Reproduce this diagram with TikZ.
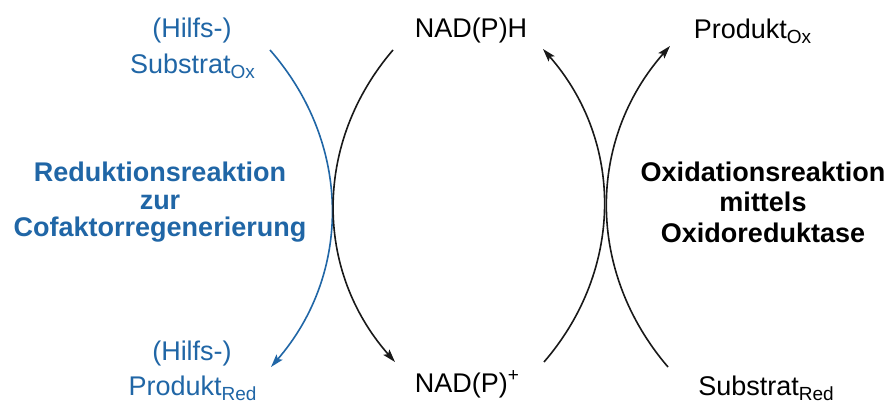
\documentclass[tikz,border=0pt]{standalone}
\usepackage{fontspec}
\setmainfont{Liberation Sans}
\usetikzlibrary{arrows.meta}
\definecolor{cofblue}{RGB}{32,102,166}
\newcommand\chsub[1]{\raisebox{-5pt}{\fontsize{19}{19}\selectfont #1}}
\newcommand\chsup[1]{\raisebox{11pt}{\fontsize{19}{19}\selectfont #1}}
\begin{document}
\begin{tikzpicture}[x=1pt,y=1pt,
  lbl/.style={anchor=base,inner sep=0pt,font=\fontsize{27}{28}\selectfont},
  bluelbl/.style={lbl,text=cofblue},
  boldlbl/.style={lbl,font=\fontsize{27}{28}\selectfont\bfseries},
  arc/.style={line width=1.6pt,-{Stealth[length=13pt,width=8pt,inset=2.5pt]}},
  blackarc/.style={arc,draw=black!90},
  bluearc/.style={arc,draw=cofblue}]
\path[use as bounding box,fill=white] (0,0) rectangle (886,-403);

% labels
\node[bluelbl] (hilfsTop) at (192,-38) {(Hilfs-)};
\node[bluelbl] (substratOx) at (192.5,-74) {Substrat\chsub{Ox}};
\node[bluelbl] (hilfsBot) at (192,-360) {(Hilfs-)};
\node[bluelbl] (produktRed) at (192.5,-395) {Produkt\chsub{Red}};
\node[lbl] (nadph) at (471,-38) {NAD(P)H};
\node[lbl] (nadp) at (467,-392) {NAD(P)\chsup{+}};
\node[lbl] (produktOx) at (752.5,-39) {Produkt\chsub{Ox}};
\node[lbl] (substratRed) at (766,-395) {Substrat\chsub{Red}};

\node[boldlbl,text=cofblue] (red1) at (160,-182) {Reduktionsreaktion};
\node[boldlbl,text=cofblue] (red2) at (160,-209.5) {zur};
\node[boldlbl,text=cofblue] (red3) at (160,-237) {Cofaktorregenerierung};
\node[boldlbl] (ox1) at (763,-182) {Oxidationsreaktion};
\node[boldlbl] (ox2) at (763,-212) {mittels};
\node[boldlbl] (ox3) at (763,-243) {Oxidoreduktase};

% arc end points
\coordinate (bS) at (270,-50);
\coordinate (bE) at (271,-367);
\coordinate (kS) at (393,-50);
\coordinate (kE) at (395,-362);
\coordinate (rS) at (544,-362);
\coordinate (rE) at (543,-49);
\coordinate (pS) at (668,-367);
\coordinate (pE) at (670,-46);

\draw[bluearc] (bS) to[bend left=41] (bE);
\draw[blackarc] (kS) to[bend right=41] (kE);
\draw[blackarc] (rS) to[bend right=41] (rE);
\draw[blackarc] (pS) to[bend left=41] (pE);
\end{tikzpicture}
\end{document}
